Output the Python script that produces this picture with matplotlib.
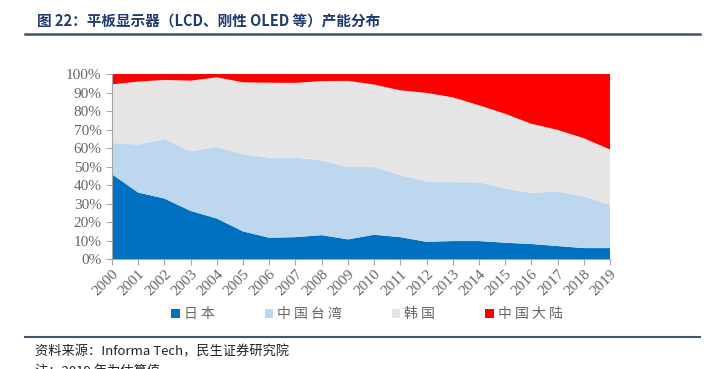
import numpy as np
import matplotlib
matplotlib.use('Agg')
from matplotlib import pyplot as plt
from matplotlib.patches import Patch
from matplotlib.lines import Line2D

plt.rcParams['font.family'] = ['Liberation Serif', 'Noto Sans CJK SC', 'DejaVu Sans']

# data (share of capacity, %)
years = [str(y) for y in range(2000, 2020)]
japan = [45.8, 35.9, 32.7, 26.0, 21.9, 14.9, 11.5, 11.8, 12.9, 10.6,
         13.1, 11.8, 9.3, 9.7, 9.7, 8.8, 8.1, 7.0, 5.9, 5.9]
taiwan = [16.9, 26.0, 32.1, 32.2, 38.6, 41.7, 43.3, 43.0, 40.4, 39.1,
          36.6, 33.6, 32.7, 31.8, 31.8, 29.3, 27.6, 29.6, 27.9, 23.4]
korea = [31.7, 34.0, 32.0, 38.2, 37.7, 38.9, 40.5, 40.4, 42.9, 46.6,
         44.6, 45.8, 47.8, 45.9, 41.6, 40.4, 37.4, 33.2, 31.5, 29.9]
china = [5.6, 4.1, 3.2, 3.6, 1.8, 4.5, 4.7, 4.8, 3.8, 3.7,
         5.7, 8.8, 10.2, 12.6, 16.9, 21.5, 26.9, 30.2, 34.7, 40.8]
labels = ['日本', '中国台湾', '韩国', '中国大陆']
colors = ['#0070C0', '#BDD7EE', '#E5E5E5', '#FF0000']

fig = plt.figure(figsize=(7.14, 3.69), dpi=100)
ax = fig.add_axes([112 / 714, 1 - 259 / 369, 498 / 714, 185 / 369])

x = np.arange(len(years))
data = np.array([japan, taiwan, korea, china])
data = data / data.sum(axis=0) * 100
ax.stackplot(x, data, colors=colors, linewidth=0)

ax.set_xlim(0, len(years) - 1)
ax.set_ylim(0, 100)
ax.set_yticks(np.arange(0, 101, 10))
ax.set_yticklabels([f'{v}%' for v in range(0, 101, 10)])
ax.set_xticks(x)
ax.set_xticklabels(years, rotation=45, ha='right', va='top', rotation_mode='anchor')
ax.tick_params(axis='both', colors='#A6A6A6', labelcolor='#666666', labelsize=11, length=4)
ax.tick_params(axis='x', pad=2)
for s in ['top', 'right']:
    ax.spines[s].set_visible(False)
for s in ['left', 'bottom']:
    ax.spines[s].set_color('#A6A6A6')

# legend
handles = [Patch(facecolor=c, edgecolor='none') for c in colors]
fig.legend(handles, [' '.join(l) for l in labels], loc='center', bbox_to_anchor=(0.514, 1 - 314 / 369),
           ncol=4, frameon=False, handlelength=0.6, handleheight=0.6, handletextpad=0.3,
           columnspacing=3.6, prop={'family': ['Noto Sans CJK SC'], 'size': 10},
           labelcolor='#666666')

# title and rules
fig.text(37 / 714, 1 - 22 / 369, '图 22：平板显示器（LCD、刚性 OLED 等）产能分布', fontsize=10.5,
         fontweight='bold', color='#1F3A6E', va='center', ha='left',
         family=['Noto Sans CJK SC', 'DejaVu Sans'])
fig.add_artist(Line2D([25 / 714, 700 / 714], [1 - 33.5 / 369] * 2, color='#44546A', lw=1.8))
fig.add_artist(Line2D([25 / 714, 700 / 714], [1 - 337 / 369] * 2, color='#44546A', lw=1.5))
fig.text(35 / 714, 1 - 352 / 369, '资料来源：Informa Tech，民生证券研究院', fontsize=9.5,
         color='#222222', va='center', ha='left', family=['Noto Sans CJK SC', 'DejaVu Sans'])
fig.text(35 / 714, 1 - 371 / 369, '注：2019 年为估算值', fontsize=9.5,
         color='#222222', va='center', ha='left', family=['Noto Sans CJK SC', 'DejaVu Sans'])

fig.savefig('out.png', dpi=100)
